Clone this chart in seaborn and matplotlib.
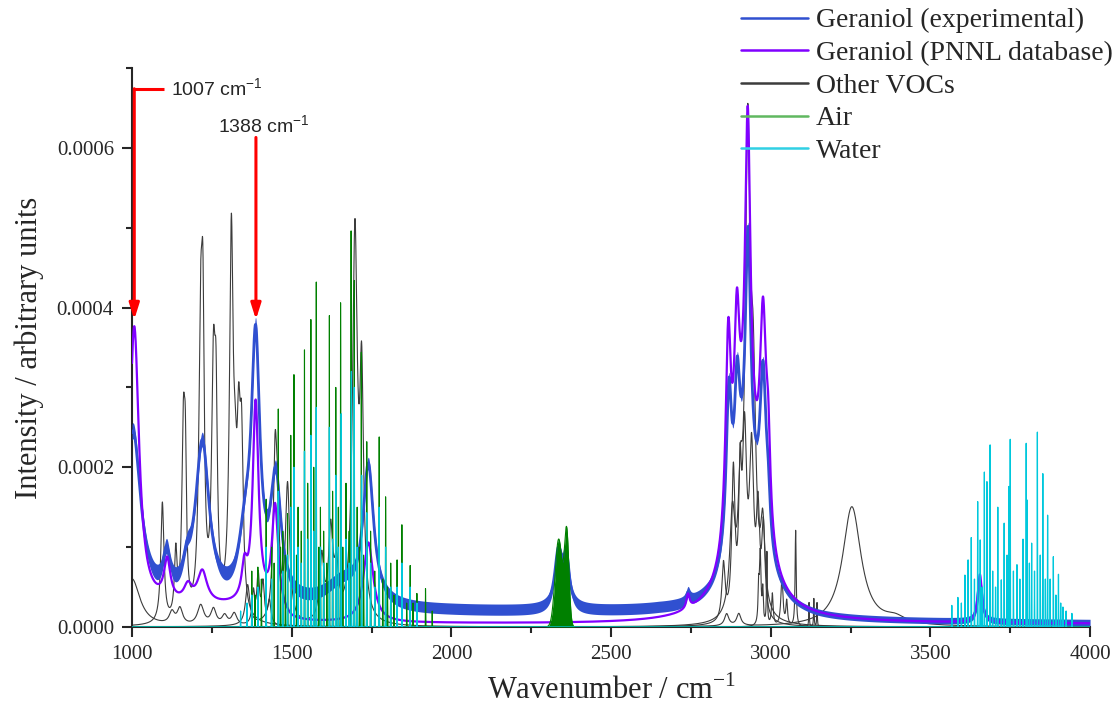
import numpy as np
import pandas as pd
import matplotlib
matplotlib.use("Agg")
import matplotlib.pyplot as plt
import seaborn as sns
from matplotlib.lines import Line2D
from matplotlib.ticker import MultipleLocator, FormatStrFormatter

# ---------------- data ----------------
x_limits = [1000, 4000]
y_limits = [0.0, 0.0007]
x_ticks = [1000, 1500, 2000, 2500, 3000, 3500, 4000]
y_ticks = [0.0, 0.0002, 0.0004, 0.0006]

series_labels = ["Geraniol (experimental)", "Geraniol (PNNL database)",
                 "Other VOCs", "Air", "Water"]

# Geraniol (experimental): Lorentzian bands (centre / cm-1, height, half width)
exp_centers = [1003, 1108, 1172, 1220, 1355, 1387, 1450, 1660, 1740,
               2335, 2360, 2741, 2869, 2895, 2925, 2929, 2976, 2992, 3655]
exp_heights = [0.00022, 0.00005, 0.00003, 0.0002, 0.00007, 0.00031, 0.00015, 0.00003, 0.00017,
               0.00007, 0.00006, 0.000012, 0.00019, 0.00015, 0.00016, 0.0003, 0.00021, 0.00005, 0.00005]
exp_widths = [30, 14, 15, 26, 25, 16, 20, 70, 20,
              14, 11, 7, 10, 10, 55, 10, 12, 8, 8]
exp_base_x = [1000, 2000, 2650, 3150, 4000]
exp_base_y = [0.00002, 0.000019, 0.000017, 0.000007, 0.000005]
exp_noise_x = [1000, 1800, 2700, 3100, 4000]
exp_noise_hw = [0.00001, 0.000007, 0.000007, 0.000004, 0.000004]

# Geraniol (PNNL database)
pnnl_centers = [1007, 1110, 1175, 1220, 1352, 1387, 1448, 1740,
                2741, 2867, 2894, 2925, 2928, 2976, 2992, 3655]
pnnl_heights = [0.00035, 0.00005, 0.00002, 0.00004, 0.00004, 0.00025, 0.00013, 0.0001,
                0.000018, 0.00025, 0.0002, 0.0002, 0.00041, 0.00026, 0.0001, 0.00006]
pnnl_widths = [18, 12, 15, 18, 10, 11, 12, 18,
               6, 10, 10, 55, 10, 12, 8, 8]
pnnl_base_x = [1000, 1400, 1500, 2700, 3200, 4000]
pnnl_base_y = [0.000025, 0.000025, 0.000005, 0.000003, 0.000005, 0.000004]

# Other VOCs (several compounds, Lorentzian bands)
voc_bands = {
    "voc_a": ([1095, 1137, 1161, 1167, 1215, 1222, 1255, 1263, 1311, 1323, 1334, 1343],
              [0.00015, 0.00008, 0.00023, 0.00014, 0.00034, 0.00028, 0.00029, 0.0002, 0.00047, 0.0001, 0.00018, 0.00019],
              [6, 5, 6, 4, 7, 5, 7, 5, 7, 6, 6, 6]),
    "voc_b": ([1362, 1448, 1456, 1487, 1594, 1622, 1640, 1698, 1719],
              [0.00005, 0.0002, 0.0001, 0.00017, 0.00008, 0.00011, 0.00006, 0.00048, 0.00028],
              [8, 7, 6, 8, 8, 8, 8, 9, 7]),
    "voc_c": ([2880, 2905, 2928, 2945, 2975],
              [0.00012, 0.00012, 0.00057, 0.00025, 0.0001],
              [10, 8, 9, 10, 8]),
    "voc_d": ([2852, 2883, 2904, 2918, 2940, 2960, 2977],
              [0.00007, 0.00018, 0.00015, 0.00022, 0.0002, 0.00012, 0.00011],
              [6, 6, 5, 8, 8, 6, 6]),
    "voc_e": ([2962, 2967, 2975, 2988, 3005, 3035, 3050, 3078, 3120, 3135, 3145],
              [0.00004, 0.00009, 0.00004, 0.00009, 0.00004, 0.00006, 0.00003, 0.00012, 0.00003, 0.000035, 0.00003],
              [2, 3, 2, 1.5, 3, 4, 3, 2, 1, 1, 1]),
    "voc_f": ([2862, 2900, 3254, 3390],
              [0.000015, 0.000015, 0.00015, 0.000008],
              [8, 8, 35, 40]),
    "voc_g": ([1000, 1125, 1150, 1215, 1255, 1290, 1320, 1380, 1395, 1410, 1430],
              [0.00006, 0.000015, 0.00002, 0.000025, 0.00002, 0.000012, 0.000015, 0.00004, 0.00006, 0.00005, 0.00003],
              [30, 10, 10, 12, 10, 10, 10, 5, 5, 5, 6]),
}

# Air: rotational lines (position / cm-1, height) and CO2 band
air_line_pos = [1375, 1385, 1394, 1405, 1420, 1437, 1445, 1458, 1465, 1472, 1480, 1487, 1497, 1507,
                1515, 1520, 1530, 1540, 1550, 1560, 1569, 1577, 1585, 1590, 1600, 1610, 1618, 1628,
                1638, 1646, 1653, 1660, 1670, 1680, 1686, 1696, 1705, 1712, 1718, 1725, 1735, 1747,
                1760, 1774, 1785, 1794, 1800, 1810, 1820, 1830, 1845, 1860, 1871, 1880, 1892, 1919, 1940]
air_line_h = [0.00007, 0.00004, 0.000075, 0.00006, 0.00016, 0.0001, 0.00008, 0.000273, 0.0001, 0.00012,
              0.00009, 0.000142, 0.00024, 0.000316, 0.00009, 0.00015, 0.00012, 0.000347, 0.00018, 0.000385,
              0.0002, 0.000432, 0.0001, 0.00015, 0.00012, 0.00008, 0.00039, 0.00017, 0.0003, 0.00015,
              0.000406, 0.0001, 0.00018, 0.00012, 0.000496, 0.000434, 0.00015, 0.0001, 0.000344, 0.00009,
              0.000232, 0.00012, 0.00007, 0.000238, 0.00006, 0.000163, 0.00005, 0.00008, 0.00004, 0.000084,
              0.000128, 0.00003, 0.000077, 0.00003, 0.000042, 0.000048, 0.00002]
co2_centers = [2336, 2361]
co2_heights = [0.00011, 0.000117]
co2_sigmas = [11, 7]

# Water: lines in the bending and stretching regions
water_line_pos = [1340, 1360, 1375, 1394, 1420, 1437, 1458, 1472, 1487, 1497, 1507, 1520, 1530, 1540,
                  1550, 1560, 1569, 1577, 1590, 1600, 1618, 1628, 1638, 1646, 1655, 1670, 1680, 1687,
                  1696, 1705, 1719, 1735, 1747, 1760, 1774, 1794, 1810, 1830, 1845, 1871, 1892,
                  3567, 3586, 3597, 3608, 3618, 3628, 3638, 3648, 3656, 3662, 3669, 3677, 3687, 3695,
                  3704, 3711, 3722, 3731, 3740, 3746, 3750, 3760, 3771, 3780, 3790, 3800, 3803, 3810,
                  3817, 3826, 3835, 3844, 3852, 3860, 3867, 3875, 3885, 3893, 3901, 3908, 3915, 3925, 3943]
water_line_h = [0.00002, 0.00003, 0.00004, 0.00005, 0.0001, 0.00006, 0.00017, 0.00007, 0.00009, 0.00015,
                0.0002, 0.0001, 0.00008, 0.00022, 0.00011, 0.00024, 0.00012, 0.000275, 0.0001, 0.00008,
                0.00025, 0.00011, 0.00019, 0.0001, 0.000267, 0.00011, 0.00008, 0.00032, 0.0003, 0.0001,
                0.00019, 0.000143, 0.00008, 0.00005, 0.00015, 0.0001, 0.00005, 0.00005, 0.00008, 0.00005,
                0.00003,
                0.000027, 0.000037, 0.00003, 0.000065, 0.000084, 0.000112, 0.00006, 0.000157, 0.000109,
                0.00005, 0.000194, 0.000182, 0.000228, 0.00007, 0.00005, 0.00015, 0.000059, 0.00013,
                0.00009, 0.000176, 0.000235, 0.00007, 0.000078, 0.00006, 0.00011, 0.00023, 0.000159,
                0.00008, 0.000105, 0.00007, 0.000244, 0.00009, 0.000192, 0.00006, 0.00014, 0.00006,
                0.000088, 0.00004, 0.000066, 0.00003, 0.000025, 0.00002, 0.000017]

# annotations
annot_1007 = dict(pos=1007, tip=0.000385, top=0.000674, text_x=1122, label="1007 cm$^{\\mathregular{-1}}$")
annot_1388 = dict(pos=1388, tip=0.000385, top=0.000613, text_x=1268, text_y=0.000628,
                  label="1388 cm$^{\\mathregular{-1}}$")

# ---------------- build spectra through line shapes ----------------
wn = np.arange(x_limits[0], x_limits[1] + 0.1, 0.2)


def lorentz_sum(x, centers, heights, widths):
    y = np.zeros_like(x)
    for c, h, w in zip(centers, heights, widths):
        y += h / (1.0 + ((x - c) / w) ** 2)
    return y


def gauss_sum(x, centers, heights, sigmas):
    y = np.zeros_like(x)
    for c, h, s in zip(centers, heights, sigmas):
        y += h * np.exp(-0.5 * ((x - c) / s) ** 2)
    return y


def stick_sum(x, pos, heights, sigma=0.35):
    return gauss_sum(x, pos, heights, [sigma] * len(pos))


exp_y = lorentz_sum(wn, exp_centers, exp_heights, exp_widths) + np.interp(wn, exp_base_x, exp_base_y)
exp_hw = np.interp(wn, exp_noise_x, exp_noise_hw)
pnnl_y = lorentz_sum(wn, pnnl_centers, pnnl_heights, pnnl_widths) + np.interp(wn, pnnl_base_x, pnnl_base_y)
voc_y = {k: lorentz_sum(wn, *v) for k, v in voc_bands.items()}
air_y = stick_sum(wn, air_line_pos, air_line_h) + gauss_sum(wn, co2_centers, co2_heights, co2_sigmas)
water_y = stick_sum(wn, water_line_pos, water_line_h)

df = pd.DataFrame({"wn": wn, "exp": exp_y, "pnnl": pnnl_y, "air": air_y, "water": water_y})
for k, v in voc_y.items():
    df[k] = v

# ---------------- styling ----------------
sns.set_style("ticks")
plt.rcParams["font.family"] = ["Liberation Serif", "DejaVu Serif"]
plt.rcParams["axes.linewidth"] = 1.5

c_exp = "#3050D0"
c_pnnl = "#8000FF"
c_voc = "#3c3c3c"
c_air = "#008000"
c_water = "#00C8DC"

fig = plt.figure(figsize=(11.17, 7.15), dpi=100)
ax = fig.add_axes([0.1182, 0.1231, 0.8577, 0.7818])

for k in voc_bands:
    sns.lineplot(data=df, x="wn", y=k, ax=ax, color=c_voc, lw=0.8, estimator=None,
                 sort=False, legend=False, zorder=2)

ax.fill_between(df["wn"], df["exp"] - exp_hw, df["exp"] + exp_hw, color=c_exp, lw=0, zorder=3)
sns.lineplot(data=df, x="wn", y="exp", ax=ax, color=c_exp, lw=2.0, estimator=None,
             sort=False, legend=False, zorder=3)
sns.lineplot(data=df, x="wn", y="pnnl", ax=ax, color=c_pnnl, lw=1.6, estimator=None,
             sort=False, legend=False, zorder=4)
ax.fill_between(df["wn"], 0, df["air"], color=c_air, lw=0, zorder=5)
sns.lineplot(data=df, x="wn", y="air", ax=ax, color=c_air, lw=0.8, estimator=None,
             sort=False, legend=False, zorder=5)
sns.lineplot(data=df, x="wn", y="water", ax=ax, color=c_water, lw=0.9, estimator=None,
             sort=False, legend=False, zorder=6)

# arrows and labels
red = "#FF0000"
ax.plot([annot_1007["pos"], 1100], [annot_1007["top"]] * 2, color=red, lw=2.2,
        solid_capstyle="butt", zorder=8)
for a in (annot_1007, annot_1388):
    ax.annotate("", xy=(a["pos"], a["tip"]), xytext=(a["pos"], a["top"]),
                arrowprops=dict(arrowstyle="-|>,head_length=0.95,head_width=0.3",
                                mutation_scale=10, color=red, lw=2.2,
                                shrinkA=0, shrinkB=0), zorder=8)
ax.text(annot_1007["text_x"], annot_1007["top"], annot_1007["label"], fontsize=14,
        family=["Liberation Sans", "DejaVu Sans"], va="center", ha="left", zorder=9)
ax.text(annot_1388["text_x"], annot_1388["text_y"], annot_1388["label"], fontsize=14,
        family=["Liberation Sans", "DejaVu Sans"], va="center", ha="left", zorder=9)

# axes
ax.set_xlim(*x_limits)
ax.set_ylim(*y_limits)
ax.set_xticks(x_ticks)
ax.set_yticks(y_ticks)
ax.xaxis.set_minor_locator(MultipleLocator(250))
ax.yaxis.set_minor_locator(MultipleLocator(0.0001))
ax.yaxis.set_major_formatter(FormatStrFormatter("%.4f"))
ax.tick_params(which="major", direction="out", length=7, width=1.5, labelsize=15, pad=6)
ax.tick_params(which="minor", direction="out", length=4, width=1.5)
sns.despine(ax=ax)
ax.set_xlabel("Wavenumber / cm$^{\\mathregular{-1}}$", fontsize=22, labelpad=8)
ax.set_ylabel("Intensity / arbitrary units", fontsize=22, labelpad=9)

handles = [Line2D([], [], color=c, lw=1.8) for c in (c_exp, c_pnnl, c_voc, "#60B860", "#30D0E4")]
fig.legend(handles, series_labels, loc="upper right", bbox_to_anchor=(0.999, 0.993),
           frameon=False, fontsize=20, handlelength=2.4, handletextpad=0.3,
           labelspacing=0.26, borderaxespad=0.0, borderpad=0.1)

fig.savefig("out.png", dpi=100)
